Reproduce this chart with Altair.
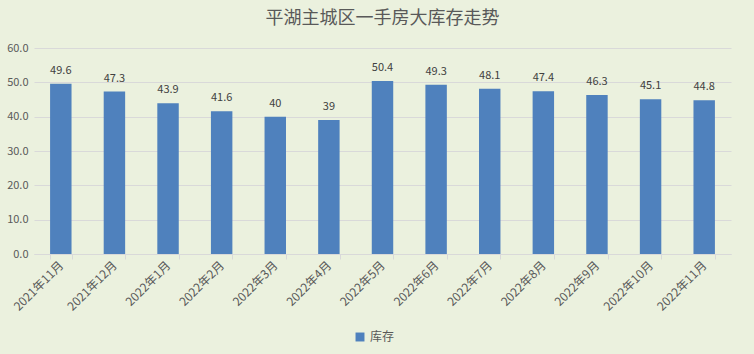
import altair as alt
import pandas as pd

months = ["2021年11月", "2021年12月", "2022年1月", "2022年2月", "2022年3月", "2022年4月",
          "2022年5月", "2022年6月", "2022年7月", "2022年8月", "2022年9月", "2022年10月", "2022年11月"]
stock = [49.6, 47.3, 43.9, 41.6, 40, 39, 50.4, 49.3, 48.1, 47.4, 46.3, 45.1, 44.8]
series = ["库存"] * len(months)
y_ticks = [0, 10, 20, 30, 40, 50, 60]

df = pd.DataFrame({"month": months, "value": stock, "series": series})

FONT = "Noto Sans CJK SC"
GRAY = "#595959"
BAR = "#4F81BD"

x = alt.X("month:N", sort=months, title=None,
          scale=alt.Scale(paddingInner=0.6, paddingOuter=0.3),
          axis=alt.Axis(labelAngle=-45, labelAlign="right", labelBaseline="middle",
                        labelColor=GRAY, labelFontSize=12, labelFont=FONT,
                        domainColor="#D9D9D9", tickColor="#D9D9D9", tickSize=5,
                        tickBand="extent", labelPadding=4))
y = alt.Y("value:Q", title=None, scale=alt.Scale(domain=[0, 60], nice=False),
          axis=alt.Axis(values=y_ticks, tickCount=20, format=".1f", labelOverlap=False,
                        labelColor=GRAY, labelFontSize=11, labelFont=FONT,
                        domain=False, ticks=False, gridColor="#D9D9D9", labelPadding=6))

base = alt.Chart(df).encode(x=x, y=y)

bars = base.mark_bar(color=BAR).encode(
    fill=alt.Fill("series:N", scale=alt.Scale(range=[BAR]),
                  legend=alt.Legend(title=None, orient="none", legendX=320, legendY=283,
                                    symbolType="square", symbolSize=80, symbolStrokeWidth=0,
                                    labelFontSize=12, labelColor=GRAY, labelFont=FONT)),
)

text = base.mark_text(dy=-13, fontSize=11, color="#404040", font=FONT).encode(
    text=alt.Text("value:Q"),
)

chart = (bars + text).properties(
    width=697, height=206,
    padding={"left": 34, "top": 48, "right": 23, "bottom": 100},
    autosize=alt.AutoSizeParams(type="none"),
    background="#EBF1DE",
    title=alt.Title("平湖主城区一手房大库存走势", fontSize=18, color=GRAY, font=FONT,
                    fontWeight="normal", offset=14, anchor="middle"),
).configure_view(stroke=None)

chart.save("out.html", embed_options={"renderer": "svg", "actions": False})
